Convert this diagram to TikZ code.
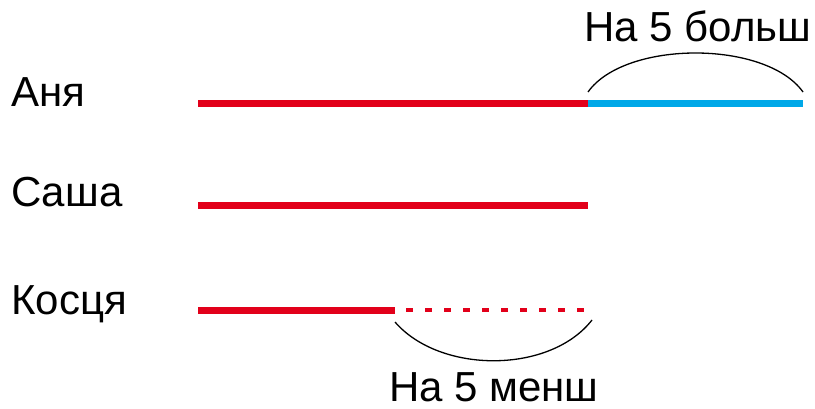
\documentclass[tikz,border=0pt]{standalone}
\usepackage{fontspec}
\setmainfont{Liberation Sans}
\usetikzlibrary{calc}
\definecolor{barred}{HTML}{E2001A}
\definecolor{barblue}{HTML}{00A8E8}
\begin{document}
\begin{tikzpicture}[x=1pt,y=-1pt,
  lbl/.style={inner sep=0pt,anchor=base west,text depth=0pt,font=\fontsize{42}{48}\selectfont},
  redbar/.style={draw=barred,line width=7pt},
  bluebar/.style={draw=barblue,line width=7pt},
  dashbar/.style={draw=barred,line width=3.5pt,dash pattern=on 7pt off 12pt},
  brace/.style={draw=black,line width=1.3pt}]
\useasboundingbox (0,0) rectangle (815,409);
% labels
\node[lbl] (anya) at (11,107) {Аня};
\node[lbl] (sasha) at (11,207) {Саша};
\node[lbl] (kostya) at (11,314) {Косця};
\node[lbl] (more) at (584,42) {На 5 больш};
\node[lbl] (less) at (389,401) {На 5 менш};
% bar end points
\coordinate (a0) at (198,104);
\coordinate (a1) at (588,104);
\coordinate (a2) at (803,104);
\coordinate (s0) at (198,206);
\coordinate (s1) at (588,206);
\coordinate (k0) at (198,310);
\coordinate (k1) at (395,310);
\coordinate (k2) at (588,310);
% bars
\draw[redbar] (a0) -- (a1);
\draw[bluebar] (a1) -- (a2);
\draw[redbar] (s0) -- (s1);
\draw[redbar] (k0) -- (k1);
\draw[dashbar] ($(k1)+(11,0)$) -- (k2);
% arcs
\coordinate (t0) at (588,92);
\coordinate (t1) at (803,92);
\draw[brace] (t0) .. controls (625,40) and (766,40) .. (t1);
\coordinate (b0) at (395,322);
\coordinate (b1) at (592,320);
\draw[brace] (b0) .. controls (440,374) and (550,374) .. (b1);
\end{tikzpicture}
\end{document}
